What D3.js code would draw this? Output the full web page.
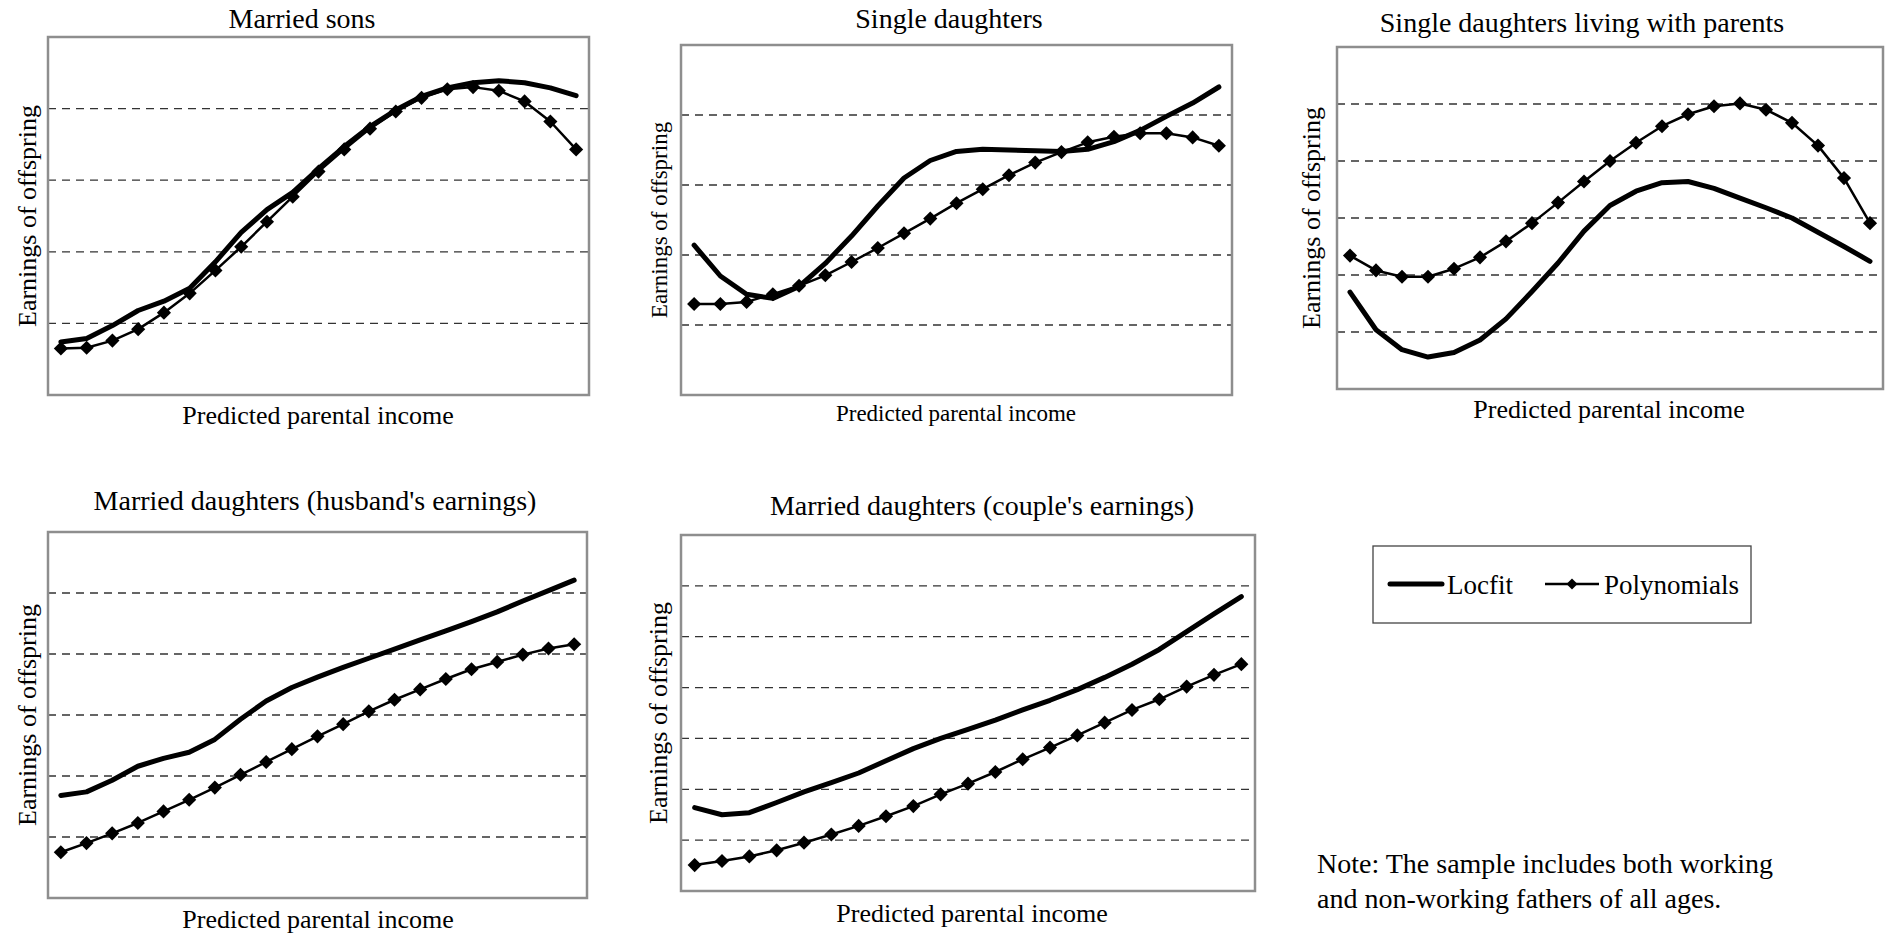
<!DOCTYPE html>
<html>
  <head>
    <title>Earnings of offspring by predicted parental income</title>
    <script src="https://d3js.org/d3.v7.min.js"></script>
    <style>
      html,
      body {
        margin: 0;
        background: #fff;
        font-family: "Liberation Serif", "Times New Roman", serif;
      }
      svg text {
        fill: #000;
      }
    </style>
  </head>
  <body>
    <div id="chart"></div>
    <script>
      // predicted parental income steps (x categories, no labels shown)
      const incomeSteps = [0, 1, 2, 3, 4, 5, 6, 7, 8, 9, 10, 11, 12, 13, 14, 15, 16, 17, 18, 19, 20];

      const panelTitles = [
        "Married sons",
        "Single daughters",
        "Single daughters living with parents",
        "Married daughters (husband's earnings)",
        "Married daughters (couple's earnings)"
      ];

      const xLabel = "Predicted parental income";
      const yLabel = "Earnings of offspring";
      const seriesNames = ["Locfit", "Polynomials"];
      const noteLines = [
        "Note: The sample includes both working",
        "and non-working fathers of all ages."
      ];

      // values, in gridline units (no scale printed)
      const sonsLocfit = [0.74, 0.79, 0.97, 1.18, 1.31, 1.49, 1.86, 2.27, 2.59, 2.83, 3.16, 3.47, 3.75, 3.98, 4.17, 4.29, 4.36, 4.39, 4.36, 4.29, 4.18];
      const sonsPoly = [0.65, 0.66, 0.76, 0.92, 1.15, 1.42, 1.74, 2.07, 2.42, 2.77, 3.12, 3.43, 3.72, 3.96, 4.15, 4.27, 4.30, 4.25, 4.10, 3.82, 3.43];

      const singleLocfit = [2.14, 1.70, 1.44, 1.38, 1.55, 1.88, 2.27, 2.70, 3.10, 3.35, 3.48, 3.51, 3.50, 3.49, 3.48, 3.51, 3.62, 3.78, 3.98, 4.17, 4.40];
      const singlePoly = [1.30, 1.30, 1.33, 1.44, 1.56, 1.71, 1.90, 2.10, 2.31, 2.52, 2.74, 2.94, 3.14, 3.32, 3.47, 3.61, 3.69, 3.74, 3.74, 3.68, 3.56];

      const homeLocfit = [1.70, 1.04, 0.69, 0.56, 0.64, 0.86, 1.23, 1.71, 2.21, 2.77, 3.22, 3.47, 3.62, 3.64, 3.52, 3.35, 3.18, 3.00, 2.75, 2.50, 2.24];
      const homePoly = [2.34, 2.08, 1.97, 1.97, 2.11, 2.31, 2.59, 2.91, 3.27, 3.64, 4.00, 4.32, 4.61, 4.82, 4.96, 5.01, 4.90, 4.67, 4.27, 3.70, 2.91];

      const husbandLocfit = [1.68, 1.74, 1.93, 2.16, 2.29, 2.39, 2.60, 2.93, 3.23, 3.45, 3.62, 3.78, 3.93, 4.08, 4.23, 4.38, 4.53, 4.69, 4.87, 5.04, 5.21];
      const husbandPoly = [0.75, 0.90, 1.06, 1.23, 1.42, 1.61, 1.81, 2.02, 2.23, 2.44, 2.65, 2.85, 3.06, 3.25, 3.42, 3.59, 3.75, 3.87, 3.99, 4.09, 4.16];

      const coupleLocfit = [1.64, 1.50, 1.54, 1.74, 1.95, 2.13, 2.32, 2.56, 2.80, 3.00, 3.18, 3.36, 3.56, 3.75, 3.96, 4.20, 4.46, 4.75, 5.10, 5.45, 5.79];
      const couplePoly = [0.51, 0.59, 0.68, 0.80, 0.95, 1.11, 1.28, 1.47, 1.67, 1.90, 2.11, 2.34, 2.59, 2.82, 3.06, 3.31, 3.56, 3.77, 4.02, 4.25, 4.46];

      // y extent and dashed gridline values per panel
      const yMax = [5, 5, 6, 6, 7];
      const gridValues = [
        [1, 2, 3, 4],
        [1, 2, 3, 4],
        [1, 2, 3, 4, 5],
        [1, 2, 3, 4, 5],
        [1, 2, 3, 4, 5, 6]
      ];

      const locfitSeries = [sonsLocfit, singleLocfit, homeLocfit, husbandLocfit, coupleLocfit];
      const polySeries = [sonsPoly, singlePoly, homePoly, husbandPoly, couplePoly];

      // layout of each panel on the page
      const layout = [
        { x0: 48, x1: 589, y0: 37, y1: 395, titleX: 302, titleY: 28, xlabX: 318, xlabY: 424, ylabX: 36, labelSize: 26 },
        { x0: 681, x1: 1232, y0: 45, y1: 395, titleX: 949, titleY: 28, xlabX: 956, xlabY: 421, ylabX: 667, labelSize: 23 },
        { x0: 1337, x1: 1883, y0: 47, y1: 389, titleX: 1582, titleY: 32, xlabX: 1609, xlabY: 418, ylabX: 1320, labelSize: 26 },
        { x0: 48, x1: 587, y0: 532, y1: 898, titleX: 315, titleY: 510, xlabX: 318, xlabY: 928, ylabX: 36, labelSize: 26 },
        { x0: 681, x1: 1255, y0: 535, y1: 891, titleX: 982, titleY: 515, xlabX: 972, xlabY: 922, ylabX: 667, labelSize: 26 }
      ];

      const width = 1890;
      const height = 937;

      const svg = d3
        .select("#chart")
        .append("svg")
        .attr("width", width)
        .attr("height", height);

      const diamond = d3.symbol().type(d3.symbolSquare).size(100);

      layout.forEach((p, i) => {
        const x = d3
          .scaleLinear()
          .domain([incomeSteps[0] - 0.5, incomeSteps[incomeSteps.length - 1] + 0.5])
          .range([p.x0, p.x1]);
        const y = d3.scaleLinear().domain([0, yMax[i]]).range([p.y1, p.y0]);

        const g = svg.append("g");

        // dashed gridlines
        g.selectAll("line.grid")
          .data(gridValues[i])
          .enter()
          .append("line")
          .attr("class", "grid")
          .attr("x1", p.x0)
          .attr("x2", p.x1)
          .attr("y1", (d) => y(d))
          .attr("y2", (d) => y(d))
          .attr("stroke", "#333")
          .attr("stroke-width", 1.3)
          .attr("stroke-dasharray", "8,6");

        // frame
        g.append("rect")
          .attr("x", p.x0)
          .attr("y", p.y0)
          .attr("width", p.x1 - p.x0)
          .attr("height", p.y1 - p.y0)
          .attr("fill", "none")
          .attr("stroke", "#8e8e8e")
          .attr("stroke-width", 2.5);

        const line = d3
          .line()
          .x((d, j) => x(incomeSteps[j]))
          .y((d) => y(d));

        // polynomial fit with diamond markers
        g.append("path")
          .datum(polySeries[i])
          .attr("d", line)
          .attr("fill", "none")
          .attr("stroke", "#000")
          .attr("stroke-width", 2.5)
          .attr("stroke-linejoin", "round");

        g.selectAll("path.marker")
          .data(polySeries[i])
          .enter()
          .append("path")
          .attr("class", "marker")
          .attr("d", diamond)
          .attr("transform", (d, j) => `translate(${x(incomeSteps[j])},${y(d)}) rotate(45)`)
          .attr("fill", "#000");

        // locfit
        g.append("path")
          .datum(locfitSeries[i])
          .attr("d", line)
          .attr("fill", "none")
          .attr("stroke", "#000")
          .attr("stroke-width", 5)
          .attr("stroke-linejoin", "round")
          .attr("stroke-linecap", "round");

        // texts
        g.append("text")
          .attr("x", p.titleX)
          .attr("y", p.titleY)
          .attr("text-anchor", "middle")
          .style("font-size", "28px")
          .text(panelTitles[i]);

        g.append("text")
          .attr("x", p.xlabX)
          .attr("y", p.xlabY)
          .attr("text-anchor", "middle")
          .style("font-size", p.labelSize + "px")
          .text(xLabel);

        g.append("text")
          .attr("transform", `translate(${p.ylabX},${(p.y0 + p.y1) / 2}) rotate(-90)`)
          .attr("text-anchor", "middle")
          .style("font-size", p.labelSize + "px")
          .text(yLabel);
      });

      // legend
      const legend = svg.append("g");
      legend
        .append("rect")
        .attr("x", 1373)
        .attr("y", 546)
        .attr("width", 378)
        .attr("height", 77)
        .attr("fill", "none")
        .attr("stroke", "#444")
        .attr("stroke-width", 1.3);

      legend
        .append("line")
        .attr("x1", 1390)
        .attr("x2", 1442)
        .attr("y1", 584)
        .attr("y2", 584)
        .attr("stroke", "#000")
        .attr("stroke-width", 5)
        .attr("stroke-linecap", "round");
      legend
        .append("text")
        .attr("x", 1447)
        .attr("y", 594)
        .style("font-size", "27px")
        .text(seriesNames[0]);

      legend
        .append("line")
        .attr("x1", 1545)
        .attr("x2", 1599)
        .attr("y1", 584)
        .attr("y2", 584)
        .attr("stroke", "#000")
        .attr("stroke-width", 2.5);
      legend
        .append("path")
        .attr("d", d3.symbol().type(d3.symbolSquare).size(60))
        .attr("transform", "translate(1572,584) rotate(45)")
        .attr("fill", "#000");
      legend
        .append("text")
        .attr("x", 1604)
        .attr("y", 594)
        .style("font-size", "27px")
        .text(seriesNames[1]);

      // note
      svg
        .append("text")
        .attr("x", 1317)
        .attr("y", 873)
        .style("font-size", "28px")
        .selectAll("tspan")
        .data(noteLines)
        .enter()
        .append("tspan")
        .attr("x", 1317)
        .attr("dy", (d, i) => (i === 0 ? 0 : 35))
        .text((d) => d);
    </script>
  </body>
</html>
